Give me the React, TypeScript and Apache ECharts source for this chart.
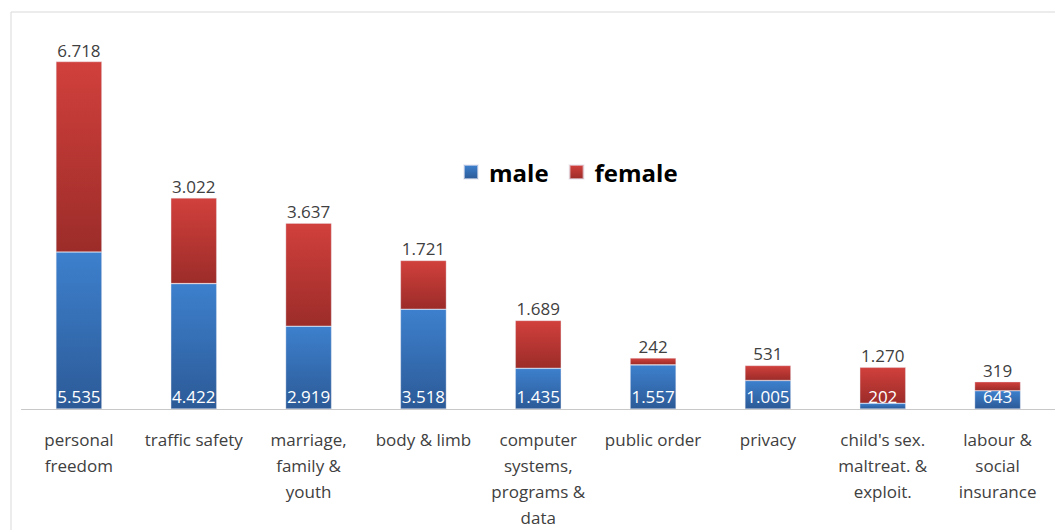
import React, { useEffect, useRef } from "react";
import * as echarts from "echarts";

const categories = [
  "personal\nfreedom",
  "traffic safety",
  "marriage,\nfamily &\nyouth",
  "body & limb",
  "computer\nsystems,\nprograms &\ndata",
  "public order",
  "privacy",
  "child's sex.\nmaltreat. &\nexploit.",
  "labour &\nsocial\ninsurance",
];
const maleValues = [5535, 4422, 2919, 3518, 1435, 1557, 1005, 202, 643];
const femaleValues = [6718, 3022, 3637, 1721, 1689, 242, 531, 1270, 319];

const fmt = (v: number) => String(v).replace(/\B(?=(\d{3})+(?!\d))/g, ".");

const FONT = "'Open Sans', 'Noto Sans', sans-serif";

export default function App() {
  const ref = useRef<HTMLDivElement>(null);
  useEffect(() => {
    document.body.style.margin = "0";
    const chart = echarts.init(ref.current!, null, { renderer: "svg" });
    const grad = (top: string, bottom: string) =>
      new echarts.graphic.LinearGradient(0, 0, 0, 1, [
        { offset: 0, color: top },
        { offset: 1, color: bottom },
      ]);
    chart.setOption({
      animation: false,
      backgroundColor: "#ffffff",
      graphic: [
        {
          type: "rect",
          shape: { x: 11, y: 12, width: 1060, height: 530 },
          style: { fill: "none", stroke: "#d9d9d9", lineWidth: 1 },
          silent: true,
        },
      ],
      legend: {
        left: 458,
        top: 155,
        icon: "rect",
        itemWidth: 14,
        itemHeight: 14,
        itemGap: 20,
        textStyle: {
          fontSize: 24,
          fontWeight: "bold",
          color: "#000",
          fontFamily: FONT,
          padding: [0, 0, 0, 6],
        },
        data: ["male", "female"],
      },
      grid: { left: 21.5, right: -2.5, top: 29, bottom: 119, containLabel: false },
      xAxis: {
        type: "category",
        data: categories,
        axisLine: { lineStyle: { color: "#c8c8c8", width: 1 } },
        axisTick: { show: false },
        axisLabel: {
          interval: 0,
          margin: 17,
          fontSize: 17,
          lineHeight: 26,
          color: "#404040",
          fontFamily: FONT,
        },
      },
      yAxis: {
        type: "value",
        min: 0,
        max: 13400,
        show: false,
        splitLine: { show: false },
      },
      series: [
        {
          name: "male",
          type: "bar",
          stack: "total",
          barWidth: 46,
          data: maleValues,
          itemStyle: {
            color: grad("#3d80cd", "#2c5a97"),
            borderColor: "rgba(230,230,240,0.6)",
            borderWidth: 0.6,
          },
          label: {
            show: true,
            position: "insideBottom",
            distance: 4,
            color: "#ffffff",
            fontSize: 17,
            fontFamily: FONT,
            formatter: (p: any) => fmt(p.value),
          },
        },
        {
          name: "female",
          type: "bar",
          stack: "total",
          barWidth: 46,
          data: femaleValues,
          itemStyle: {
            color: grad("#d1403c", "#9c2c29"),
            borderColor: "rgba(230,230,240,0.6)",
            borderWidth: 0.6,
          },
          label: {
            show: true,
            position: "top",
            distance: 3,
            color: "#404040",
            fontSize: 17,
            fontFamily: FONT,
            formatter: (p: any) => fmt(p.value),
          },
        },
      ],
    });
    return () => chart.dispose();
  }, []);
  return <div ref={ref} style={{ width: 1055, height: 530 }} />;
}
